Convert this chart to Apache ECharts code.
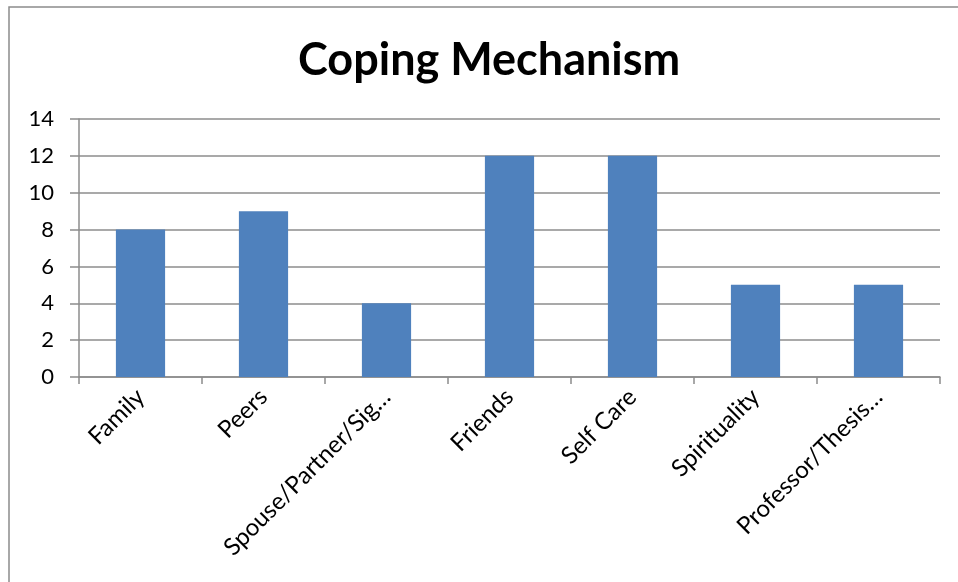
<!DOCTYPE html>
<html>
<head>
<meta charset="utf-8">
<script src="https://cdn.jsdelivr.net/npm/echarts@6/dist/echarts.min.js"></script>
<style>
  html, body { margin: 0; padding: 0; background: #fff; }
  #chart { width: 958px; height: 582px; }
</style>
</head>
<body>
<div id="chart"></div>
<script>
// Coping mechanisms and how many respondents named each one
const categories = ['Family', 'Peers', 'Spouse/Partner/Sig…', 'Friends', 'Self Care', 'Spirituality', 'Professor/Thesis…'];
const counts = [8, 9, 4, 12, 12, 5, 5];
const yTicks = [0, 2, 4, 6, 8, 10, 12, 14];

const FONT = 'Lato, "Open Sans", sans-serif';
const GRID_COLOR = '#8c8c8c';

const chart = echarts.init(document.getElementById('chart'), null, { renderer: 'canvas' });

chart.setOption({
  animation: false,
  backgroundColor: '#ffffff',
  title: {
    text: 'Coping Mechanism',
    left: 293,
    top: 33,
    textStyle: { fontFamily: FONT, fontWeight: 'bold', fontSize: 45, color: '#000' }
  },
  graphic: [{
    type: 'rect',
    shape: { x: 9, y: 7, width: 1200, height: 1200 },
    style: { fill: 'none', stroke: '#8c8c8c', lineWidth: 1.5 },
    silent: true
  }],
  grid: { left: 79, right: 18, top: 119, bottom: 205, containLabel: false },
  xAxis: {
    type: 'category',
    data: categories,
    axisLine: { lineStyle: { color: GRID_COLOR, width: 1.5 } },
    axisTick: { show: true, length: 7, alignWithLabel: false, lineStyle: { color: GRID_COLOR, width: 1.5 } },
    axisLabel: {
      rotate: 45,
      interval: 0,
      margin: 16,
      fontFamily: FONT,
      fontSize: 24,
      color: '#000'
    }
  },
  yAxis: {
    type: 'value',
    min: yTicks[0],
    max: yTicks[yTicks.length - 1],
    interval: 2,
    axisLine: { show: true, lineStyle: { color: GRID_COLOR, width: 1.5 } },
    axisTick: { show: true, length: 9, lineStyle: { color: GRID_COLOR, width: 1.5 } },
    splitLine: { show: true, lineStyle: { color: GRID_COLOR, width: 1.5 } },
    axisLabel: {
      fontFamily: FONT,
      fontSize: 22,
      color: '#000',
      margin: 25,
      formatter: v => yTicks.includes(v) ? String(v) : ''
    }
  },
  series: [{
    type: 'bar',
    data: counts,
    barWidth: '40%',
    itemStyle: { color: '#4f81bd' }
  }]
});
</script>
</body>
</html>
